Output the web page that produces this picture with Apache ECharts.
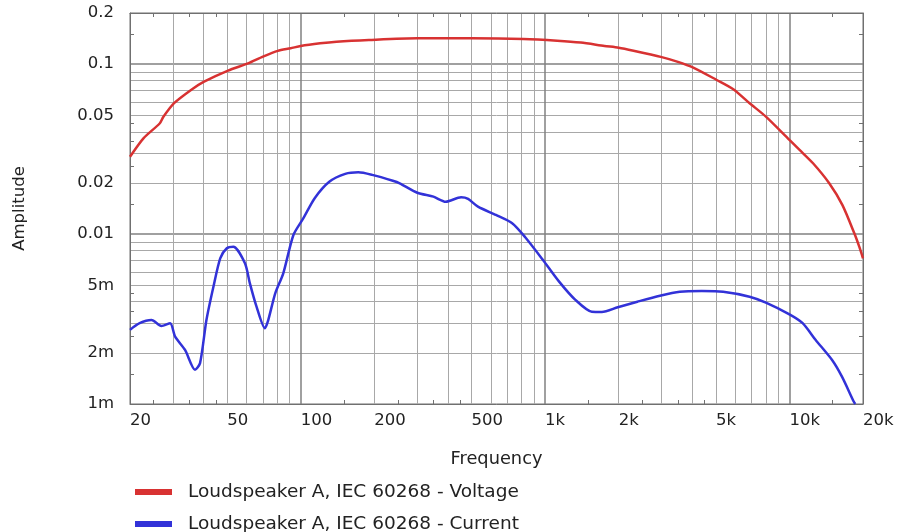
<!DOCTYPE html>
<html>
<head>
<meta charset="utf-8">
<script src="https://cdn.jsdelivr.net/npm/echarts@6/dist/echarts.min.js"></script>
<style>
  html, body { margin: 0; padding: 0; background: #ffffff; }
  #chart { width: 898px; height: 532px; }
</style>
</head>
<body>
<div id="chart"></div>
<script>
// Voltage response (Hz, amplitude)
const voltageFreq = [20, 22.7, 26.5, 27.4, 30.3, 35.9, 40.2, 50.4, 60.8, 70, 80.5, 90.9, 100, 120, 140, 190, 300, 500,
  815, 1120, 1400, 1750, 2000, 2300, 3000, 3470, 4040, 5040, 5890, 6870, 8010, 10000, 11000, 12490, 14550,
  16480, 18430, 19320, 20000];
const voltage = [0.0285, 0.0366, 0.0449, 0.049, 0.0589, 0.0712, 0.0789, 0.0916, 0.101, 0.1107, 0.1197, 0.124, 0.128,
  0.1327, 0.1356, 0.1388, 0.142, 0.142, 0.1407, 0.1375, 0.134, 0.128, 0.125, 0.120, 0.110, 0.1035, 0.0955,
  0.0807, 0.0712, 0.0589, 0.0491, 0.0358, 0.0313, 0.0261, 0.0199, 0.0148, 0.0101, 0.0084, 0.0072];

// Current response (Hz, amplitude)
const currentFreq = [20, 21.9, 24.5, 26.9, 29.2, 30.6, 33.6, 36.9, 38.7, 41.1, 43.9, 46.8, 49.8, 53, 59.1, 61.9, 65.9,
  71.3, 73.6, 78.6, 84.8, 93.3, 102.5, 114, 130.8, 152, 172, 196, 238, 254, 300, 349, 392, 453, 484, 531, 629,
  733, 829, 980, 1141, 1330, 1553, 1707, 1984, 2385, 2951, 3559, 4380, 5354, 6867, 8008, 10000, 11324, 12806,
  14945, 16403, 18346, 18600];
const current = [0.00273, 0.00299, 0.00312, 0.00288, 0.00299, 0.00249, 0.00208, 0.00159, 0.00174, 0.00312, 0.0049,
  0.0072, 0.00825, 0.00843, 0.00673, 0.00513, 0.00374, 0.00279, 0.00312, 0.00448, 0.00588, 0.00988, 0.0124,
  0.01625, 0.0203, 0.0226, 0.0231, 0.0223, 0.0206, 0.0199, 0.0175, 0.0166, 0.0155, 0.01646, 0.0161, 0.0145,
  0.01295, 0.01158, 0.00958, 0.00704, 0.00525, 0.0041, 0.00349, 0.00348, 0.00371, 0.0040, 0.00434, 0.00458,
  0.00462, 0.00458, 0.00428, 0.00395, 0.00337, 0.00299, 0.00238, 0.001815, 0.001448, 0.00103, 0.001];

// Axis tick labels and grid positions
const xLabelValues = [20, 50, 100, 200, 500, 1000, 2000, 5000, 10000, 20000];
const xGridValues = [30, 40, 50, 60, 70, 80, 90, 200, 300, 400, 500, 600, 700, 800, 900,
  2000, 3000, 4000, 5000, 6000, 7000, 8000, 9000];
const xDecadeValues = [100, 1000, 10000];
const xHalfTicks = [25, 35, 45, 150, 250, 350, 450, 1500, 2500, 3500, 4500, 15000];

const yLabelValues = [0.001, 0.002, 0.005, 0.01, 0.02, 0.05, 0.1, 0.2];
const yGridValues = [0.002, 0.003, 0.004, 0.005, 0.006, 0.007, 0.008, 0.009,
  0.02, 0.03, 0.04, 0.05, 0.06, 0.07, 0.08, 0.09];
const yDecadeValues = [0.01, 0.1];
const yHalfTicks = [0.0015, 0.0025, 0.0035, 0.0045, 0.015, 0.025, 0.035, 0.045, 0.15];

const seriesNames = ['Loudspeaker A, IEC 60268 - Voltage', 'Loudspeaker A, IEC 60268 - Current'];

const FONT = 'DejaVu Sans';
const TEXT = '#222222';
const FRAME = '#707070';
const GRID = '#a8a8a8';
const DECADE = '#808080';
const X_RANGE = { min: 20, max: 20000 };
const Y_RANGE = { min: 0.001, max: 0.2 };

function pairs(xs, ys) { return xs.map((x, i) => [x, ys[i]]); }
function clean(v) { return Number(Number(v).toPrecision(6)); }
function fmtFreq(v) { v = clean(v); return v >= 1000 ? clean(v / 1000) + 'k' : String(v); }
function fmtAmp(v) { v = clean(v); return v < 0.01 ? clean(v * 1000) + 'm' : String(v); }

function hiddenX(values, color, width) {
  return Object.assign({
    type: 'log', logBase: 10, position: 'bottom',
    axisLine: { show: false }, axisLabel: { show: false },
    axisTick: { show: false, customValues: values },
    splitLine: { show: true, lineStyle: { color: color, width: width } }
  }, X_RANGE);
}
function hiddenY(values, color, width) {
  return Object.assign({
    type: 'log', logBase: 10, position: 'left',
    axisLine: { show: false }, axisLabel: { show: false },
    axisTick: { show: false, customValues: values },
    splitLine: { show: true, lineStyle: { color: color, width: width } }
  }, Y_RANGE);
}
function legendRow(name, top) {
  return {
    orient: 'vertical', left: 135, top: top, padding: 0,
    itemWidth: 37, itemHeight: 6, icon: 'rect',
    textStyle: { fontFamily: FONT, fontSize: 18.5, color: TEXT, padding: [0, 0, 0, 11], lineHeight: 20 },
    data: [name]
  };
}

const chart = echarts.init(document.getElementById('chart'), null, { renderer: 'canvas' });

chart.setOption({
  animation: false,
  backgroundColor: '#ffffff',
  textStyle: { fontFamily: FONT, color: TEXT },
  grid: { left: 130, right: 35, top: 13, bottom: 128, show: true, borderColor: FRAME, borderWidth: 1, containLabel: false },
  legend: [legendRow(seriesNames[0], 482), legendRow(seriesNames[1], 514)],
  xAxis: [
    Object.assign({
      type: 'log', logBase: 10, position: 'bottom',
      name: 'Frequency', nameLocation: 'middle', nameGap: 46,
      nameTextStyle: { fontFamily: FONT, fontSize: 17.8, color: TEXT },
      axisLine: { show: true, lineStyle: { color: FRAME } },
      axisTick: { show: true, inside: true, length: 4, customValues: xHalfTicks, lineStyle: { color: FRAME } },
      axisLabel: { show: true, customValues: xLabelValues, align: 'left', margin: 8,
        fontFamily: FONT, fontSize: 16.5, color: TEXT, formatter: fmtFreq, hideOverlap: false,
        showMinLabel: true, showMaxLabel: true },
      splitLine: { show: false }
    }, X_RANGE),
    Object.assign({
      type: 'log', logBase: 10, position: 'top',
      axisLine: { show: true, lineStyle: { color: FRAME } },
      axisTick: { show: true, inside: true, length: 4, customValues: xHalfTicks, lineStyle: { color: FRAME } },
      axisLabel: { show: false }, splitLine: { show: false }
    }, X_RANGE),
    hiddenX(xGridValues, GRID, 1),
    hiddenX(xDecadeValues, DECADE, 1.5)
  ],
  yAxis: [
    Object.assign({
      type: 'log', logBase: 10, position: 'left',
      name: 'Amplitude', nameLocation: 'middle', nameGap: 102, nameRotate: 90,
      nameTextStyle: { fontFamily: FONT, fontSize: 16.5, color: TEXT },
      axisLine: { show: true, lineStyle: { color: FRAME } },
      axisTick: { show: true, inside: true, length: 4, customValues: yHalfTicks, lineStyle: { color: FRAME } },
      axisLabel: { show: true, customValues: yLabelValues, margin: 16,
        fontFamily: FONT, fontSize: 16.5, color: TEXT, formatter: fmtAmp, hideOverlap: false,
        showMinLabel: true, showMaxLabel: true },
      splitLine: { show: false }
    }, Y_RANGE),
    Object.assign({
      type: 'log', logBase: 10, position: 'right',
      axisLine: { show: true, lineStyle: { color: FRAME } },
      axisTick: { show: true, inside: true, length: 4, customValues: yHalfTicks, lineStyle: { color: FRAME } },
      axisLabel: { show: false }, splitLine: { show: false }
    }, Y_RANGE),
    hiddenY(yGridValues, GRID, 1),
    hiddenY(yDecadeValues, DECADE, 1.5)
  ],
  series: [
    {
      name: seriesNames[0], type: 'line', xAxisIndex: 0, yAxisIndex: 0,
      data: pairs(voltageFreq, voltage), showSymbol: false, smooth: 0.25, z: 5,
      lineStyle: { color: '#d83232', width: 2.5 }, itemStyle: { color: '#d83232' }
    },
    {
      name: seriesNames[1], type: 'line', xAxisIndex: 0, yAxisIndex: 0,
      data: pairs(currentFreq, current), showSymbol: false, smooth: 0.25, z: 5,
      lineStyle: { color: '#3232d8', width: 2.5 }, itemStyle: { color: '#3232d8' }
    }
  ]
});
</script>
</body>
</html>
